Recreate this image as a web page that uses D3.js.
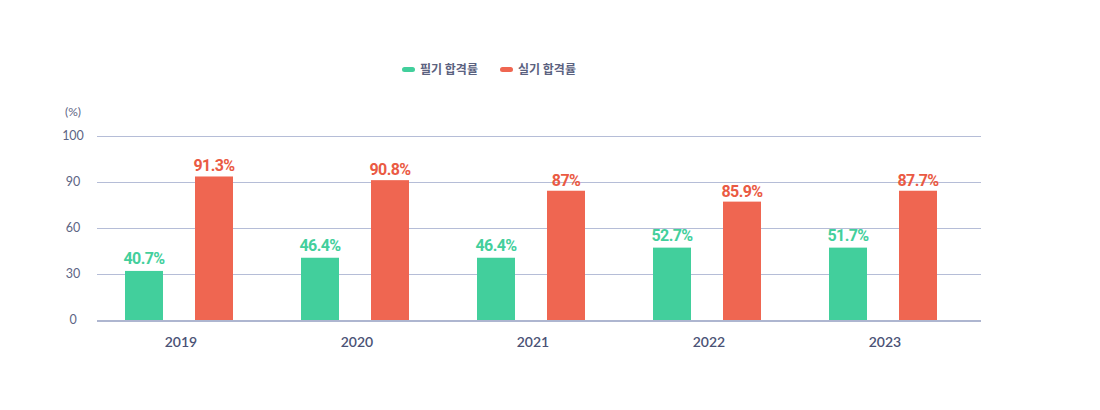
<!DOCTYPE html>
<html>
<head>
<meta charset="utf-8">
<script src="https://cdn.jsdelivr.net/npm/d3@7"></script>
<style>
  html, body { margin: 0; padding: 0; background: #ffffff; }
  svg { display: block; }
</style>
</head>
<body>
<div id="chart"></div>
<script>
// ---- data ----
const years = ["2019", "2020", "2021", "2022", "2023"];
const seriesNames = ["필기 합격률", "실기 합격률"];
// bar heights as drawn in the picture (on the axis scale)
const writtenBars = [32, 40.6, 40.6, 47.2, 47.2];
const practicalBars = [91.2, 90.4, 84.3, 77.2, 84.3];
// value labels printed above the bars
const writtenLabels = ["40.7%", "46.4%", "46.4%", "52.7%", "51.7%"];
const practicalLabels = ["91.3%", "90.8%", "87%", "85.9%", "87.7%"];
const yTicks = [0, 30, 60, 90, 100];

// ---- style ----
const W = 1100, H = 410;
const colors = ["#42CF9C", "#EF6651"];
const labelColors = ["#43CF9C", "#EA5A43"];

const svg = d3.select("#chart").append("svg")
  .attr("width", W).attr("height", H);

// scales
const y = d3.scaleLinear()
  .domain(yTicks)
  .range([320, 274, 228, 182, 136]);

const x = d3.scaleBand().domain(years).range([91, 971]);
const xInner = d3.scalePoint().domain(seriesNames).range([-35, 35]);
const barW = 38;

// gridlines
svg.append("g").selectAll("line")
  .data(yTicks.filter(t => t > 0))
  .join("line")
  .attr("x1", 97).attr("x2", 981)
  .attr("y1", d => y(d) + 0.5).attr("y2", d => y(d) + 0.5)
  .attr("stroke", "#B5BDD7").attr("stroke-width", 1);

// y tick labels
svg.append("g").selectAll("text")
  .data(yTicks)
  .join("text")
  .attr("x", 73).attr("y", d => y(d) + 1)
  .attr("text-anchor", "middle")
  .attr("dominant-baseline", "middle")
  .attr("font-family", "Lato, 'Noto Sans', sans-serif")
  .attr("font-size", 12.5)
  .attr("fill", "#5D6584")
  .text(d => d);

svg.append("text")
  .attr("x", 73).attr("y", 113)
  .attr("text-anchor", "middle")
  .attr("dominant-baseline", "middle")
  .attr("font-family", "Lato, 'Noto Sans', sans-serif")
  .attr("font-size", 12)
  .attr("fill", "#5D6584")
  .text("(%)");

// bars
const seriesData = [
  { name: seriesNames[0], bars: writtenBars, labels: writtenLabels, gap: 7 },
  { name: seriesNames[1], bars: practicalBars, labels: practicalLabels, gap: 5 }
];

seriesData.forEach((s, si) => {
  const g = svg.append("g");
  const rows = years.map((yr, i) => ({ yr, v: s.bars[i], label: s.labels[i] }));
  g.selectAll("rect")
    .data(rows)
    .join("rect")
    .attr("x", d => x(d.yr) + x.bandwidth() / 2 + xInner(s.name) - barW / 2)
    .attr("y", d => y(d.v))
    .attr("width", barW)
    .attr("height", d => y(0) - y(d.v))
    .attr("fill", colors[si]);
  g.selectAll("text")
    .data(rows)
    .join("text")
    .attr("x", d => x(d.yr) + x.bandwidth() / 2 + xInner(s.name))
    .attr("y", d => y(d.v) - s.gap)
    .attr("text-anchor", "middle")
    .attr("font-family", "Roboto, 'Noto Sans', sans-serif")
    .attr("font-weight", 700)
    .attr("font-size", 16)
    .attr("letter-spacing", -0.6)
    .attr("fill", labelColors[si])
    .text(d => d.label);
});

// baseline
svg.append("line")
  .attr("x1", 97).attr("x2", 981)
  .attr("y1", 321).attr("y2", 321)
  .attr("stroke", "#AEB6D0").attr("stroke-width", 2);

// x labels
svg.append("g").selectAll("text")
  .data(years)
  .join("text")
  .attr("x", d => x(d) + x.bandwidth() / 2 + 2)
  .attr("y", 347)
  .attr("text-anchor", "middle")
  .attr("font-family", "Lato, 'Noto Sans', sans-serif")
  .attr("font-weight", 600)
  .attr("font-size", 14)
  .attr("fill", "#4A5275")
  .text(d => d);

// legend
const legendX = [402, 500];
const legend = svg.append("g");
seriesNames.forEach((n, i) => {
  legend.append("rect")
    .attr("x", legendX[i]).attr("y", 67)
    .attr("width", 13).attr("height", 5)
    .attr("rx", 2.5)
    .attr("fill", colors[i]);
  legend.append("text")
    .attr("x", legendX[i] + 18).attr("y", 74)
    .attr("font-family", "'Noto Sans CJK KR', sans-serif")
    .attr("font-weight", 700)
    .attr("font-size", 12)
    .attr("fill", "#5B6280")
    .text(n);
});
</script>
</body>
</html>
